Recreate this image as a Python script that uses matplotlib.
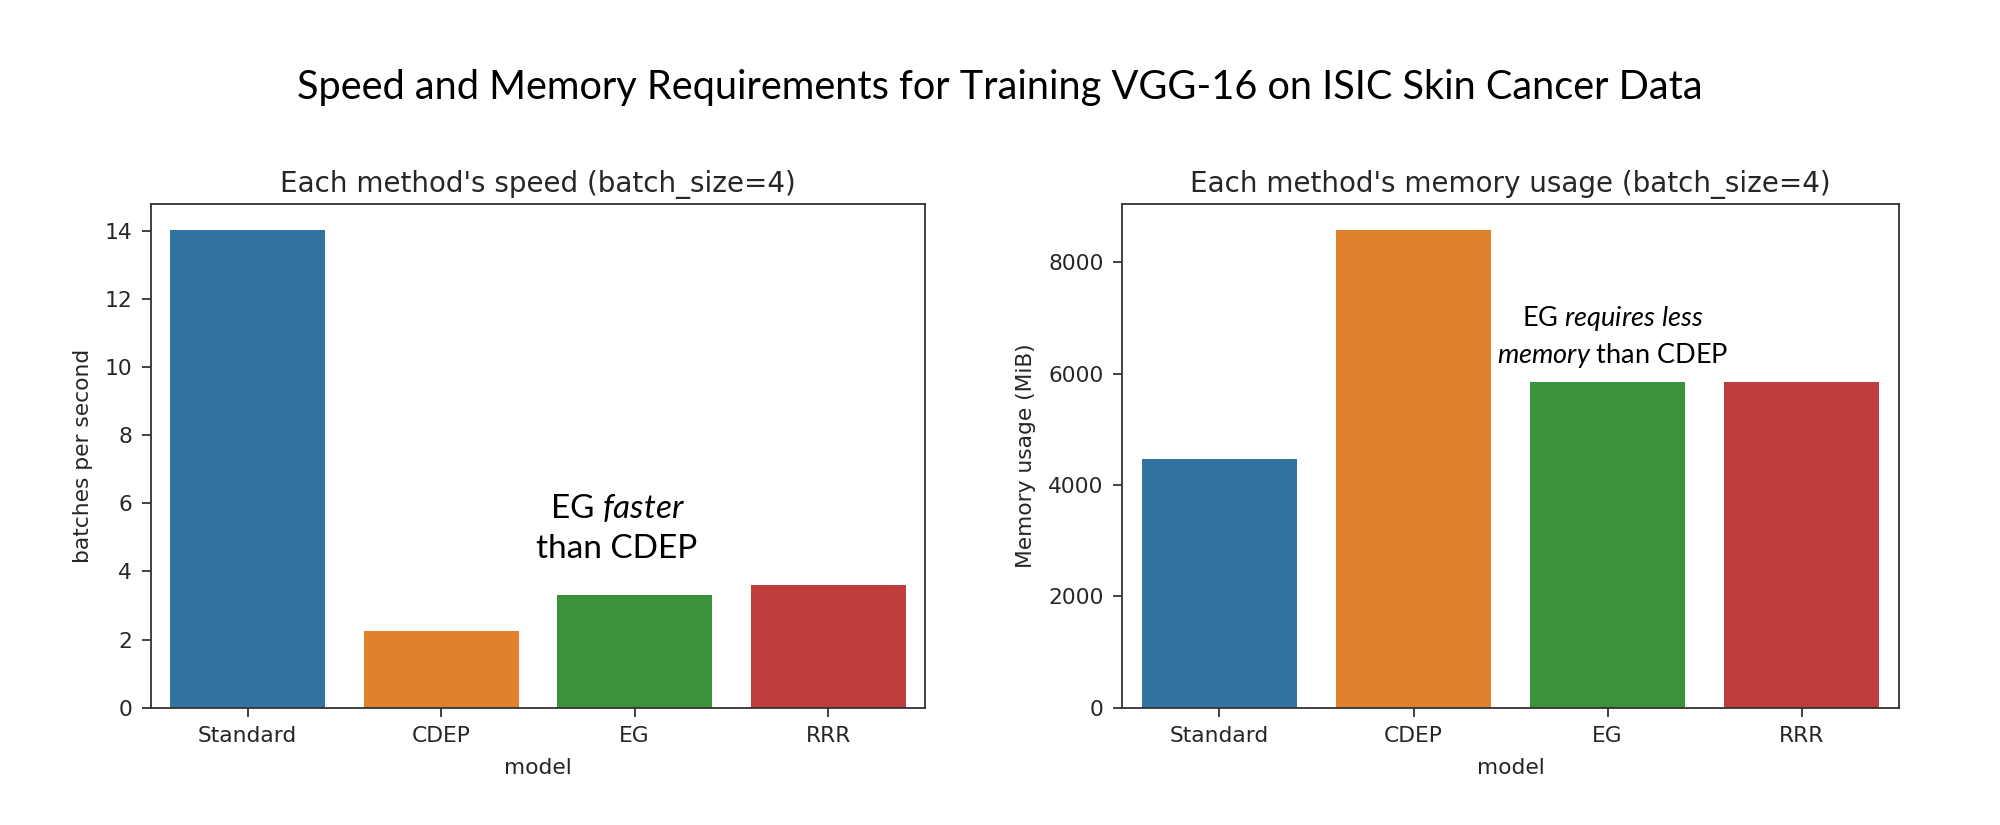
import matplotlib
matplotlib.use("Agg")
import matplotlib.pyplot as plt

models = ["Standard", "CDEP", "EG", "RRR"]
speed = [14.03, 2.24, 3.32, 3.60]
memory = [4470, 8585, 5850, 5850]
colors = ["#3274a1", "#e1812c", "#3a923a", "#c03d3e"]
speed_ticks = [0, 2, 4, 6, 8, 10, 12, 14]
mem_ticks = [0, 2000, 4000, 6000, 8000]

plt.rcParams["font.family"] = ["DejaVu Sans"]
plt.rcParams["mathtext.fontset"] = "custom"
plt.rcParams["mathtext.rm"] = "Lato"
plt.rcParams["mathtext.it"] = "Lato:italic"

fig = plt.figure(figsize=(20, 8.25), dpi=100)

tick_fs = 15.7
label_fs = 15.7
title_fs = 20
spine_c = "#333333"
txt_c = "#262626"

def style(ax):
    for s in ax.spines.values():
        s.set_linewidth(1.3)
        s.set_color(spine_c)
    ax.tick_params(labelsize=tick_fs, length=6.5, width=1.3, pad=7,
                   color=spine_c, labelcolor=txt_c)

ax1 = fig.add_axes([0.0754, 0.1422, 0.3871, 0.6102])
ax1.bar(range(len(models)), speed, width=0.8, color=colors)
ax1.set_xlim(-0.5, 3.5)
ax1.set_ylim(0, 14.78)
ax1.set_xticks(range(len(models)))
ax1.set_xticklabels(models)
ax1.set_yticks(speed_ticks)
ax1.set_xlabel("model", fontsize=label_fs, color=txt_c, labelpad=8.5)
ax1.set_ylabel("batches per second", fontsize=label_fs, color=txt_c, labelpad=8)
ax1.set_title("Each method's speed (batch_size=4)", fontsize=title_fs, pad=9, color=txt_c)
style(ax1)

ax2 = fig.add_axes([0.5612, 0.1422, 0.3882, 0.6102])
ax2.bar(range(len(models)), memory, width=0.8, color=colors)
ax2.set_xlim(-0.5, 3.5)
ax2.set_ylim(0, 9044)
ax2.set_xticks(range(len(models)))
ax2.set_xticklabels(models)
ax2.set_yticks(mem_ticks)
ax2.set_xlabel("model", fontsize=label_fs, color=txt_c, labelpad=8.5)
ax2.set_ylabel("Memory usage (MiB)", fontsize=label_fs, color=txt_c, labelpad=9)
ax2.set_title("Each method's memory usage (batch_size=4)", fontsize=title_fs, pad=9, color=txt_c)
style(ax2)

fig.text(0.5, 1 - 87 / 825, "Speed and Memory Requirements for Training VGG-16 on ISIC Skin Cancer Data",
         ha="center", va="center", fontsize=28.6, family=["Lato"], color="black")

fig.text(617 / 2000, 1 - 528 / 825, "EG $\\mathit{faster}$\nthan CDEP",
         ha="center", va="center", multialignment="center", fontsize=24, family=["Lato"],
         linespacing=1.45, color="black")
fig.text(1613 / 2000, 1 - 337 / 825, "EG $\\mathit{requires\\ less}$\n$\\mathit{memory}$ than CDEP",
         ha="center", va="center", multialignment="center", fontsize=19.5, family=["Lato"],
         linespacing=1.4, color="black")

fig.savefig("out.png", dpi=100)
